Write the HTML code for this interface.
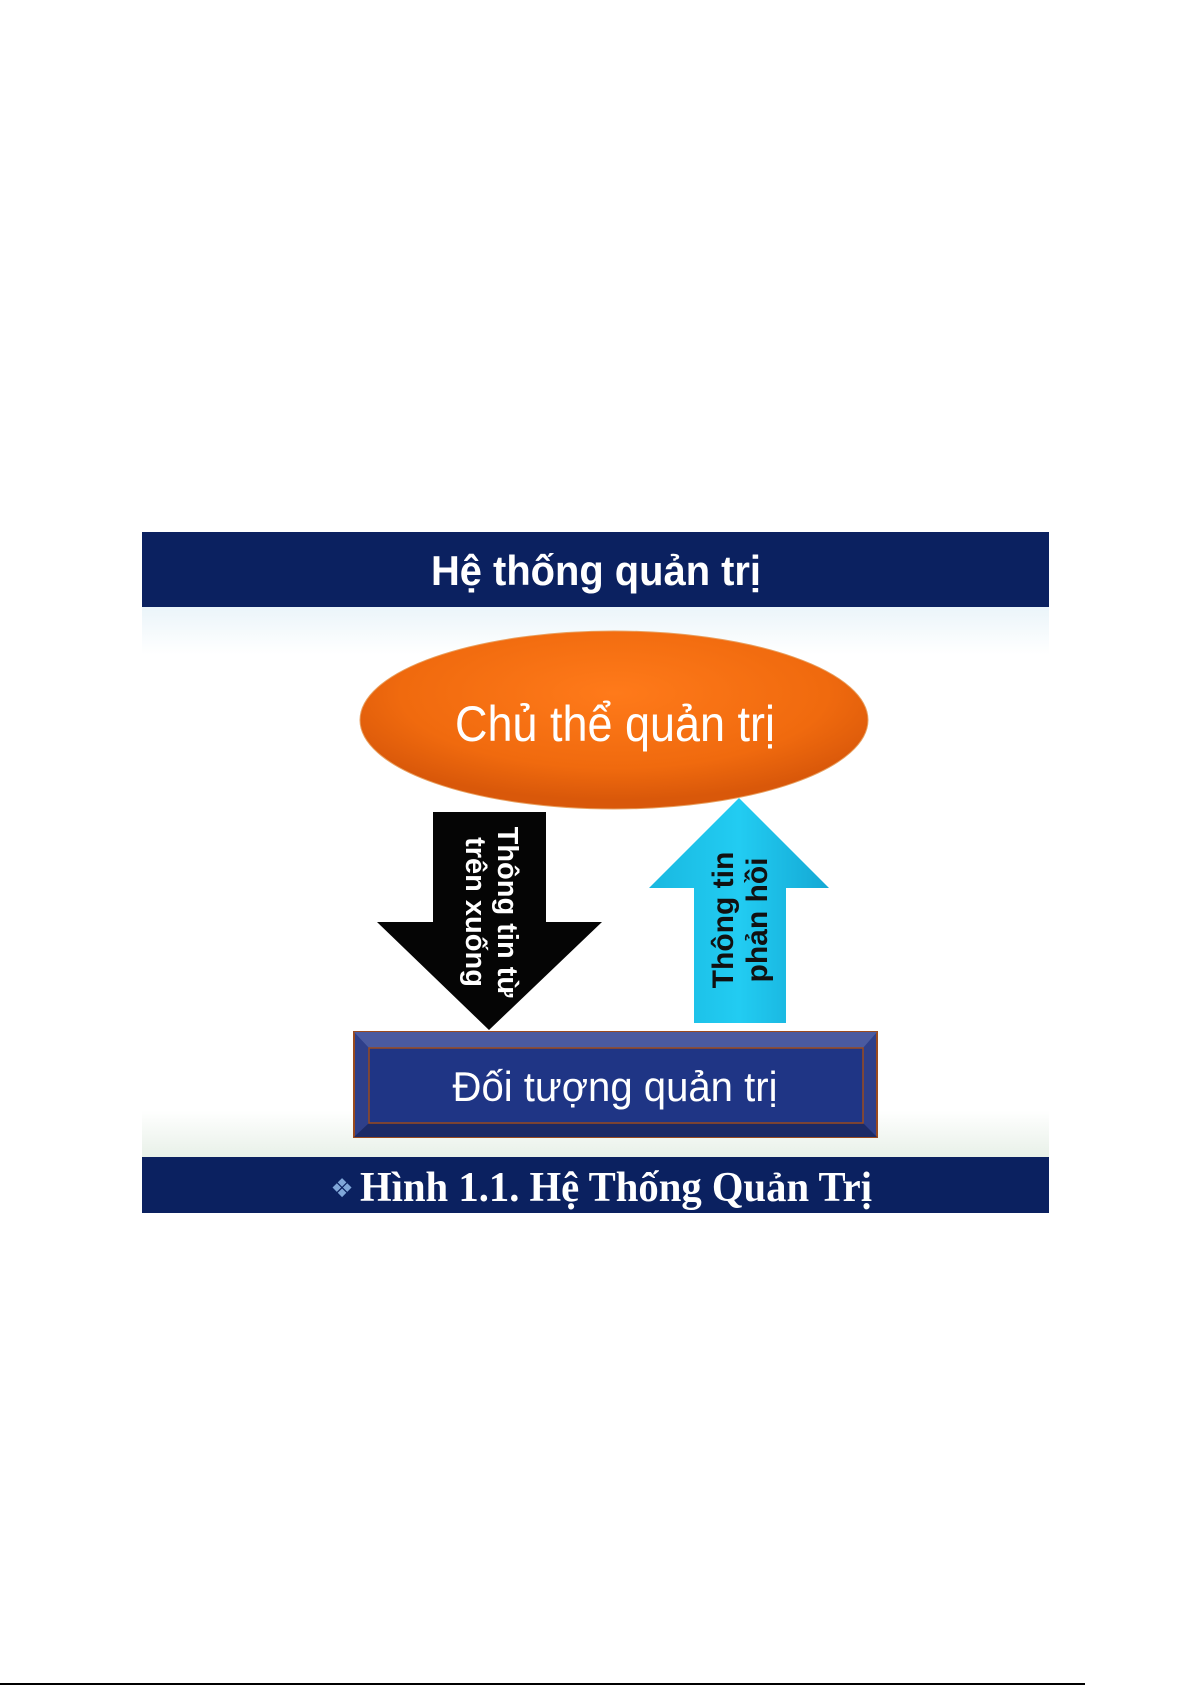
<!DOCTYPE html>
<html><head><meta charset="utf-8"><style>
html,body{margin:0;padding:0;background:#fff;}
svg{display:block;}
</style></head><body>
<svg width="1192" height="1685" viewBox="0 0 1192 1685" xmlns="http://www.w3.org/2000/svg">
<defs>
<linearGradient id="bg" x1="0" y1="0" x2="0" y2="1">
<stop offset="0" stop-color="#b9d9ea"/>
<stop offset="0.08" stop-color="#e2f0f7"/>
<stop offset="0.18" stop-color="#ffffff"/>
<stop offset="0.85" stop-color="#ffffff"/>
<stop offset="0.93" stop-color="#e4eee4"/>
<stop offset="1" stop-color="#b8d2c0"/>
</linearGradient>
<radialGradient id="orng" cx="0.5" cy="0.35" r="0.6">
<stop offset="0" stop-color="#ff7a1a"/>
<stop offset="0.7" stop-color="#f06a0e"/>
<stop offset="1" stop-color="#d9580a"/>
</radialGradient>
<linearGradient id="cyan" x1="0" y1="0" x2="1" y2="0">
<stop offset="0" stop-color="#19b8e0"/>
<stop offset="0.5" stop-color="#22ccf2"/>
<stop offset="1" stop-color="#14a8d4"/>
</linearGradient>
</defs>
<rect x="142" y="532" width="907" height="681" fill="url(#bg)"/>
<rect x="142" y="532" width="907" height="75" fill="#0b2160"/>
<text x="596" y="585" text-anchor="middle" font-family="Liberation Sans, sans-serif" font-weight="bold" font-size="42" textLength="330" lengthAdjust="spacingAndGlyphs" fill="#fff">Hệ thống quản trị</text>

<ellipse cx="614" cy="720" rx="254" ry="89" fill="url(#orng)" stroke="#e8a060" stroke-width="1"/>
<text x="615" y="741" text-anchor="middle" font-family="Liberation Sans, sans-serif" font-size="50" textLength="320" lengthAdjust="spacingAndGlyphs" fill="#fff">Chủ thể quản trị</text>

<polygon points="433,812 546,812 546,922 602,922 489,1030 377,922 433,922" fill="#050505"/>
<text transform="translate(489,912) rotate(90)" text-anchor="middle" font-family="Liberation Sans, sans-serif" font-weight="bold" font-size="29" fill="#fff"><tspan x="0" y="-9">Thông tin từ</tspan><tspan x="0" y="23">trên xuống</tspan></text>

<polygon points="739,798 829,888 786,888 786,1023 694,1023 694,888 649,888" fill="url(#cyan)"/>
<text transform="translate(741,920) rotate(-90)" text-anchor="middle" font-family="Liberation Sans, sans-serif" font-weight="bold" font-size="30" fill="#111"><tspan x="0" y="-8">Thông tin</tspan><tspan x="0" y="26">phản hồi</tspan></text>

<rect x="354" y="1032" width="523" height="105" fill="#2e3f8a" stroke="#9a4a1e" stroke-width="2"/>
<polygon points="354,1032 877,1032 863,1048 369,1048" fill="#4a5aa0"/>
<polygon points="354,1137 877,1137 863,1123 369,1123" fill="#1c2a66"/>
<rect x="369" y="1048" width="494" height="75" fill="#1f3585" stroke="#9a4a1e" stroke-width="1.5"/>
<text x="615" y="1101" text-anchor="middle" font-family="Liberation Sans, sans-serif" font-size="42" textLength="325" lengthAdjust="spacingAndGlyphs" fill="#fff">Đối tượng quản trị</text>

<rect x="142" y="1157" width="907" height="56" fill="#0b2160"/>
<text x="342" y="1197" text-anchor="middle" font-family="DejaVu Sans, sans-serif" font-size="26" fill="#7fa6d8">❖</text>
<text x="360" y="1201" font-family="Liberation Serif, serif" font-weight="bold" font-size="42" textLength="512" lengthAdjust="spacingAndGlyphs" fill="#fff">Hình 1.1. Hệ Thống Quản Trị</text>

<rect x="0" y="1683" width="1085" height="2" fill="#000"/>
</svg>
</body></html>
